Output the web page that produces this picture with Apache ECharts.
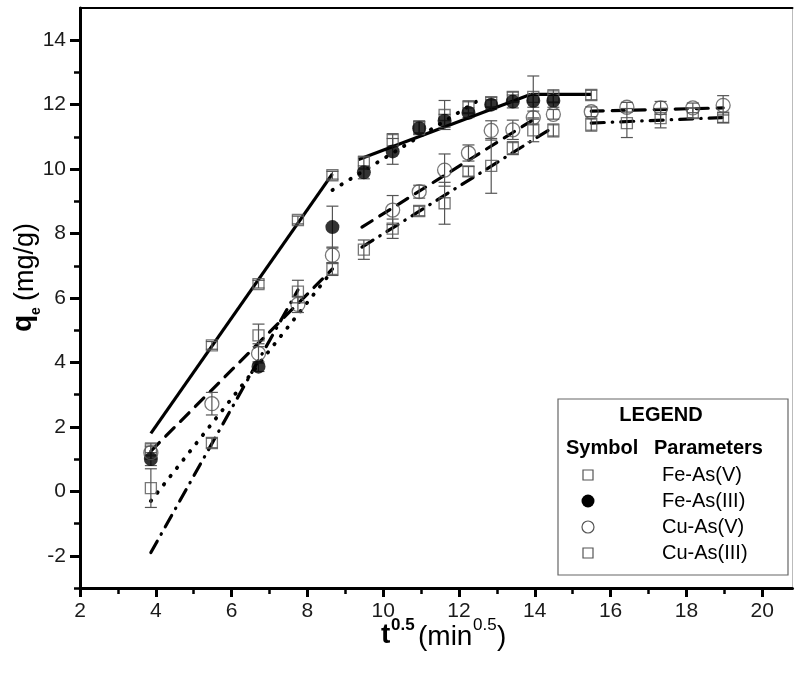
<!DOCTYPE html>
<html><head><meta charset="utf-8">
<script src="https://cdn.jsdelivr.net/npm/echarts@6/dist/echarts.min.js"></script>
<style>html,body{margin:0;padding:0;background:#fff}#c{width:795px;height:674px}</style>
</head><body><div id="c"></div>
<script>
// x values: t^0.5 (min^0.5)
const tHalf = [3.87, 5.48, 6.71, 7.75, 8.66, 9.49, 10.25, 10.95, 11.62, 12.25, 12.85, 13.42, 13.96, 14.49, 15.49, 16.43, 17.32, 18.17, 18.97];
// qe (mg/g)
const feAsV      = [1.3, 4.53, 6.43, 8.42, 9.81, 10.2, 10.9, 11.3, 11.68, 11.92, 12.08, 12.24, 12.24, 12.26, 12.3];
const feAsVErr   = [0.2, 0.12, 0.12, 0.12, 0.12, 0.2, 0.2, 0.2, 0.45, 0.2, 0.15, 0.15, 0.65, 0.2, 0.15];
const feAsIII    = [1.0, null, 3.87, null, 8.2, 9.9, 10.55, 11.27, 11.5, 11.75, 12.0, 12.1, 12.12, 12.12];
const feAsIIIErr = [0.2, null, 0.15, null, 0.65, 0.2, 0.4, 0.2, 0.2, 0.15, 0.15, 0.2, 0.2, 0.2];
const cuAsV      = [1.2, 2.72, 4.28, 5.8, 7.33, null, 8.73, 9.3, 9.97, 10.5, 11.2, 11.22, 11.6, 11.7, 11.78, 11.92, 11.9, 11.9, 11.98];
const cuAsVErr   = [0.2, 0.35, 0.3, 0.25, 0.25, null, 0.45, 0.2, 0.5, 0.25, 0.3, 0.3, 0.2, 0.15, 0.15, 0.15, 0.2, 0.15, 0.3];
const cuAsIII    = [0.1, 1.5, 4.84, 6.2, 6.9, 7.5, 8.15, 8.7, 8.94, 9.93, 10.1, 10.65, 11.2, 11.2, 11.38, 11.43, 11.58, 11.74, 11.6];
const cuAsIIIErr = [0.6, 0.15, 0.35, 0.35, 0.2, 0.3, 0.3, 0.15, 0.65, 0.15, 0.85, 0.2, 0.35, 0.2, 0.2, 0.45, 0.3, 0.15, 0.15];

// linear fit segments (intraparticle diffusion stages)
const feAsVFit   = [[[3.87, 1.8], [8.66, 9.85]], [[9.35, 10.3], [13.9, 12.32]], [[13.9, 12.32], [15.49, 12.32]]];
const feAsIIIFit = [[[3.87, -0.3], [8.66, 6.85]], [[8.66, 9.35], [12.6, 12.2]]];
const cuAsVFit   = [[[3.87, 1.25], [8.66, 6.9]], [[9.44, 8.2], [14.05, 11.6]], [[15.49, 11.8], [18.97, 11.9]]];
const cuAsIIIFit = [[[3.87, -1.9], [7.75, 6.25]], [[9.44, 7.58], [14.49, 11.3]], [[15.49, 11.43], [18.97, 11.6]]];

const xTicks = [2, 4, 6, 8, 10, 12, 14, 16, 18, 20];
const xMinor = [3, 5, 7, 9, 11, 13, 15, 17, 19];
const yTicks = [-2, 0, 2, 4, 6, 8, 10, 12, 14];
const yMinor = [-3, -1, 1, 3, 5, 7, 9, 11, 13];
const seriesNames = ['Fe-As(V)', 'Fe-As(III)', 'Cu-As(V)', 'Cu-As(III)'];

const FONT = 'Liberation Sans, Arial, sans-serif';
const XMIN = 2, XMAX = 20.8, YMIN = -3, YMAX = 15;

function pts(vals) {
  const out = [];
  vals.forEach((v, i) => { if (v !== null && v !== undefined) out.push([tHalf[i], v]); });
  return out;
}
function errPts(vals, errs) {
  const out = [];
  vals.forEach((v, i) => { if (v !== null && v !== undefined) out.push([tHalf[i], v, errs[i]]); });
  return out;
}
function errSeries(vals, errs) {
  return {
    type: 'custom', z: 5, silent: true,
    data: errPts(vals, errs),
    renderItem: function (params, api) {
      const x = api.value(0), y = api.value(1), e = api.value(2);
      const top = api.coord([x, y + e]);
      const bot = api.coord([x, y - e]);
      const w = 6;
      const st = { stroke: '#555', lineWidth: 1.2 };
      return { type: 'group', children: [
        { type: 'line', shape: { x1: top[0], y1: top[1], x2: bot[0], y2: bot[1] }, style: st },
        { type: 'line', shape: { x1: top[0] - w, y1: top[1], x2: top[0] + w, y2: top[1] }, style: st },
        { type: 'line', shape: { x1: bot[0] - w, y1: bot[1], x2: bot[0] + w, y2: bot[1] }, style: st }
      ]};
    }
  };
}
function fitSeries(segs, type, width) {
  return segs.map(s => ({
    type: 'line', data: s, symbol: 'none', z: 4, silent: true,
    lineStyle: { color: '#000', width: width || 3.2, type: type, cap: type === 'solid' ? 'butt' : 'round' }
  }));
}
const openSq = { color: 'rgba(255,255,255,0)', borderColor: '#555', borderWidth: 1.3 };
const openCi = { color: 'rgba(255,255,255,0)', borderColor: '#555', borderWidth: 1.3 };

const series = [].concat(
  fitSeries(feAsVFit, 'solid'),
  fitSeries(feAsIIIFit, [0.5, 10], 3.8),
  fitSeries(cuAsVFit, [12, 9]),
  fitSeries(cuAsIIIFit, [13, 8, 0.5, 8]),
  [
    errSeries(feAsV, feAsVErr), errSeries(feAsIII, feAsIIIErr),
    errSeries(cuAsV, cuAsVErr), errSeries(cuAsIII, cuAsIIIErr),
    { name: seriesNames[0], type: 'scatter', symbol: 'rect', symbolSize: 11, data: pts(feAsV), itemStyle: openSq, z: 6 },
    { name: seriesNames[1], type: 'scatter', symbol: 'circle', symbolSize: 14, data: pts(feAsIII), itemStyle: { color: '#000' }, z: 6 },
    { name: seriesNames[2], type: 'scatter', symbol: 'circle', symbolSize: 14, data: pts(cuAsV), itemStyle: openCi, z: 6 },
    { name: seriesNames[3], type: 'scatter', symbol: 'rect', symbolSize: 11, data: pts(cuAsIII), itemStyle: openSq, z: 6 }
  ]
);

function xAx(extra) {
  return Object.assign({ type: 'value', min: XMIN, max: XMAX, splitLine: { show: false } }, extra);
}
function yAx(extra) {
  return Object.assign({ type: 'value', min: YMIN, max: YMAX, splitLine: { show: false } }, extra);
}

const legendX = 558, legendY = 399, rowY = [475, 501, 527, 553];
const legendGraphics = [
  { type: 'rect', shape: { x: legendX, y: legendY, width: 230, height: 176 }, style: { fill: '#fff', stroke: '#666', lineWidth: 1.2 }, z: 20 },
  { type: 'text', x: 661, y: 415, style: { text: 'LEGEND', font: 'bold 20px ' + FONT, fill: '#000', align: 'center', verticalAlign: 'middle' }, z: 21 },
  { type: 'text', x: 566, y: 448, style: { text: 'Symbol', font: 'bold 20px ' + FONT, fill: '#000', align: 'left', verticalAlign: 'middle' }, z: 21 },
  { type: 'text', x: 654, y: 448, style: { text: 'Parameters', font: 'bold 20px ' + FONT, fill: '#000', align: 'left', verticalAlign: 'middle' }, z: 21 }
];
seriesNames.forEach((n, i) => {
  legendGraphics.push({ type: 'text', x: 662, y: rowY[i], style: { text: n, font: '20px ' + FONT, fill: '#000', align: 'left', verticalAlign: 'middle' }, z: 21 });
});
legendGraphics.push({ type: 'rect', shape: { x: 583, y: rowY[0] - 5, width: 10, height: 10 }, style: { fill: 'none', stroke: '#555', lineWidth: 1.2 }, z: 21 });
legendGraphics.push({ type: 'circle', shape: { cx: 588, cy: rowY[1], r: 6.5 }, style: { fill: '#000' }, z: 21 });
legendGraphics.push({ type: 'circle', shape: { cx: 588, cy: rowY[2], r: 6 }, style: { fill: 'none', stroke: '#555', lineWidth: 1.2 }, z: 21 });
legendGraphics.push({ type: 'rect', shape: { x: 583, y: rowY[3] - 5, width: 10, height: 10 }, style: { fill: 'none', stroke: '#555', lineWidth: 1.2 }, z: 21 });

const axisTitleGraphics = [
  { type: 'group', x: 0, y: 0, children: [
    { type: 'text', x: 381, y: 649, style: { text: 't', font: 'bold 28px ' + FONT, fill: '#000', verticalAlign: 'bottom' } },
    { type: 'text', x: 391, y: 634, style: { text: '0.5', font: 'bold 17px ' + FONT, fill: '#000', verticalAlign: 'bottom' } },
    { type: 'text', x: 418, y: 651, style: { text: '(min', font: '28px ' + FONT, fill: '#000', verticalAlign: 'bottom' } },
    { type: 'text', x: 473, y: 634, style: { text: '0.5', font: '17px ' + FONT, fill: '#000', verticalAlign: 'bottom' } },
    { type: 'text', x: 497, y: 651, style: { text: ')', font: '28px ' + FONT, fill: '#000', verticalAlign: 'bottom' } }
  ]},
  { type: 'group', x: 37, y: 332, rotation: Math.PI / 2, children: [
    { type: 'text', x: 0, y: 0, style: { text: 'q', font: 'bold 28px ' + FONT, fill: '#000', verticalAlign: 'bottom' } },
    { type: 'text', x: 17, y: 6, style: { text: 'e', font: 'bold 14px ' + FONT, fill: '#000', verticalAlign: 'bottom' } },
    { type: 'text', x: 31, y: 2, style: { text: '(mg/g)', font: '27px ' + FONT, fill: '#000', verticalAlign: 'bottom' } }
  ]}
];

const option = {
  animation: false,
  backgroundColor: '#fff',
  grid: { left: 80, right: 2.5, top: 8, bottom: 86, containLabel: false },
  xAxis: [
    xAx({ position: 'bottom',
      axisLine: { onZero: false, lineStyle: { color: '#000', width: 3 } },
      axisTick: { customValues: xTicks, length: 9, inside: false, lineStyle: { color: '#000', width: 3 } },
      axisLabel: { customValues: xTicks, fontSize: 21, fontFamily: FONT, color: '#1a1a1a', margin: 13 } }),
    xAx({ position: 'bottom',
      axisLine: { show: false, onZero: false },
      axisTick: { customValues: xMinor, length: 6, lineStyle: { color: '#000', width: 2.5 } },
      axisLabel: { show: false } }),
    xAx({ position: 'top',
      axisLine: { onZero: false, lineStyle: { color: '#000', width: 2 } }, axisTick: { show: false }, axisLabel: { show: false } })
  ],
  yAxis: [
    yAx({ position: 'left',
      axisLine: { onZero: false, lineStyle: { color: '#000', width: 3 } },
      axisTick: { customValues: yTicks, length: 10, lineStyle: { color: '#000', width: 3 } },
      axisLabel: { customValues: yTicks, fontSize: 21, fontFamily: FONT, color: '#1a1a1a', margin: 14 } }),
    yAx({ position: 'left',
      axisLine: { show: false, onZero: false },
      axisTick: { customValues: yMinor, length: 6, lineStyle: { color: '#000', width: 2.5 } },
      axisLabel: { show: false } }),
    yAx({ position: 'right',
      axisLine: { onZero: false, lineStyle: { color: '#bbb', width: 1 } }, axisTick: { show: false }, axisLabel: { show: false } })
  ],
  series: series,
  graphic: legendGraphics.concat(axisTitleGraphics)
};

const chart = echarts.init(document.getElementById('c'), null, { renderer: 'canvas' });
chart.setOption(option);
</script>
</body></html>
